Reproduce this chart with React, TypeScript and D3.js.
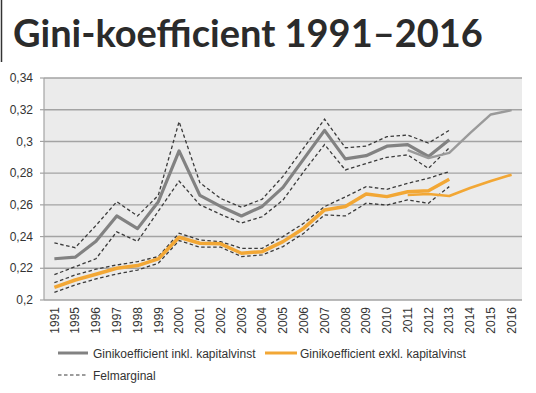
import React from "react";
import * as d3 from "d3";

const categories = ["1991","1995","1996","1997","1998","1999","2000","2001","2002","2003","2004","2005","2006","2007","2008","2009","2010","2011","2012","2013","2014","2015","2016"];
const oldYears = categories.slice(0, 20); // 1991–2013
const newYears = ["2011","2012","2013","2014","2015","2016"];

const inklOld = [0.226,0.227,0.237,0.253,0.245,0.262,0.294,0.266,0.259,0.253,0.259,0.271,0.289,0.307,0.289,0.291,0.297,0.298,0.2905,0.301];
const inklUpper = [0.236,0.233,0.247,0.262,0.253,0.266,0.3125,0.274,0.264,0.2585,0.2636,0.278,0.296,0.314,0.296,0.297,0.303,0.304,0.299,0.307];
const inklLower = [0.216,0.221,0.226,0.243,0.237,0.256,0.275,0.260,0.254,0.2485,0.2525,0.263,0.281,0.298,0.282,0.286,0.290,0.2915,0.283,0.296];
const exklOld = [0.208,0.2126,0.2162,0.220,0.2217,0.2259,0.2396,0.2358,0.2354,0.2295,0.2305,0.2368,0.2453,0.2568,0.2589,0.2669,0.2652,0.2683,0.2689,0.2761];
const exklUpper = [0.2109,0.2158,0.2194,0.2221,0.2242,0.2274,0.2421,0.2379,0.2368,0.2326,0.2326,0.240,0.2484,0.2589,0.265,0.2715,0.2698,0.2736,0.2768,0.2809];
const exklLower = [0.2048,0.2095,0.2133,0.2164,0.2189,0.2232,0.2375,0.2333,0.2333,0.2274,0.2284,0.2337,0.2421,0.2537,0.253,0.261,0.2599,0.2631,0.261,0.2715];
const inklNew = [0.2945,0.2895,0.2928,0.3052,0.317,0.3197];
const exklNew = [0.2662,0.2668,0.2656,0.2706,0.2751,0.279];

const yTicks = [0.2,0.22,0.24,0.26,0.28,0.3,0.32,0.34];
const title = "Gini-koefficient 1991–2016";
const legendInkl = "Ginikoefficient inkl. kapitalvinst";
const legendExkl = "Ginikoefficient exkl. kapitalvinst";
const legendFel = "Felmarginal";

const GRAY = "#828282";
const GRAY_NEW = "#9a9a9a";
const ORANGE = "#f2a735";
const DASH = "#3a3a3a";
const FONT = "'Liberation Sans', Arial, sans-serif";

export default function App() {
  const left = 44, right = 522, top = 78, bottom = 300;
  const xb = d3.scaleBand<string>().domain(categories).range([left, right]).padding(0);
  const x = (c: string) => (xb(c) as number) + xb.bandwidth() / 2;
  const y = d3.scaleLinear().domain([0.2, 0.34]).range([bottom, top]);
  const line = (years: string[], vals: number[]) =>
    d3.line<number>().x((_, i) => x(years[i])).y((v) => y(v))(vals) as string;
  const fmt = (v: number) => String(+v.toFixed(2)).replace(".", ",");

  return (
    <svg width={536} height={393} style={{ position: "absolute", left: 0, top: 0, background: "#fff" }}>
      <line x1={1.5} x2={1.5} y1={0} y2={62} stroke="#333" strokeWidth={1.5} />
      <text x={13} y={47} fontFamily="Lato, 'Open Sans', sans-serif" fontWeight={700} fontSize={38} fill="#2b2b2b">{title}</text>

      <rect x={left} y={top} width={right - left} height={bottom - top} fill="#ebebeb" />
      {yTicks.map((t) => (
        <g key={t}>
          <line x1={left} x2={right} y1={y(t)} y2={y(t)} stroke="#a3a3a3" strokeWidth={1.4} />
          <line x1={40} x2={left} y1={y(t)} y2={y(t)} stroke="#a3a3a3" strokeWidth={1.2} />
          <text x={33} y={y(t)} dy="0.35em" textAnchor="end" fontFamily={FONT} fontSize={12} fill="#333">{fmt(t)}</text>
        </g>
      ))}
      <line x1={left} x2={left} y1={top} y2={bottom} stroke="#a3a3a3" strokeWidth={1.2} />

      {categories.map((c) => (
        <text key={c} transform={`translate(${x(c)},307) rotate(-90)`} textAnchor="end" dy="0.35em"
          fontFamily={FONT} fontSize={12} fill="#333">{c}</text>
      ))}

      {[inklUpper, inklLower, exklUpper, exklLower].map((vals, i) => (
        <path key={i} d={line(oldYears, vals)} fill="none" stroke={DASH} strokeWidth={1.3} strokeDasharray="3.5,2.5" />
      ))}
      <path d={line(oldYears, inklOld)} fill="none" stroke={GRAY} strokeWidth={3.2} strokeLinejoin="round" />
      <path d={line(oldYears, exklOld)} fill="none" stroke={ORANGE} strokeWidth={3.5} strokeLinejoin="round" />
      <path d={line(newYears, inklNew)} fill="none" stroke={GRAY_NEW} strokeWidth={2.4} strokeLinejoin="round" />
      <path d={line(newYears, exklNew)} fill="none" stroke={ORANGE} strokeWidth={2.6} strokeLinejoin="round" />

      <line x1={58} x2={88} y1={353} y2={353} stroke={GRAY} strokeWidth={3} />
      <text x={93} y={358} fontFamily={FONT} fontSize={12} fill="#333">{legendInkl}</text>
      <line x1={265} x2={297} y1={353} y2={353} stroke={ORANGE} strokeWidth={3} />
      <text x={300} y={358} fontFamily={FONT} fontSize={12} fill="#333">{legendExkl}</text>
      <line x1={58} x2={88} y1={375} y2={375} stroke={DASH} strokeWidth={1.2} strokeDasharray="3.5,2.5" />
      <text x={93} y={380} fontFamily={FONT} fontSize={12} fill="#333">{legendFel}</text>
    </svg>
  );
}
